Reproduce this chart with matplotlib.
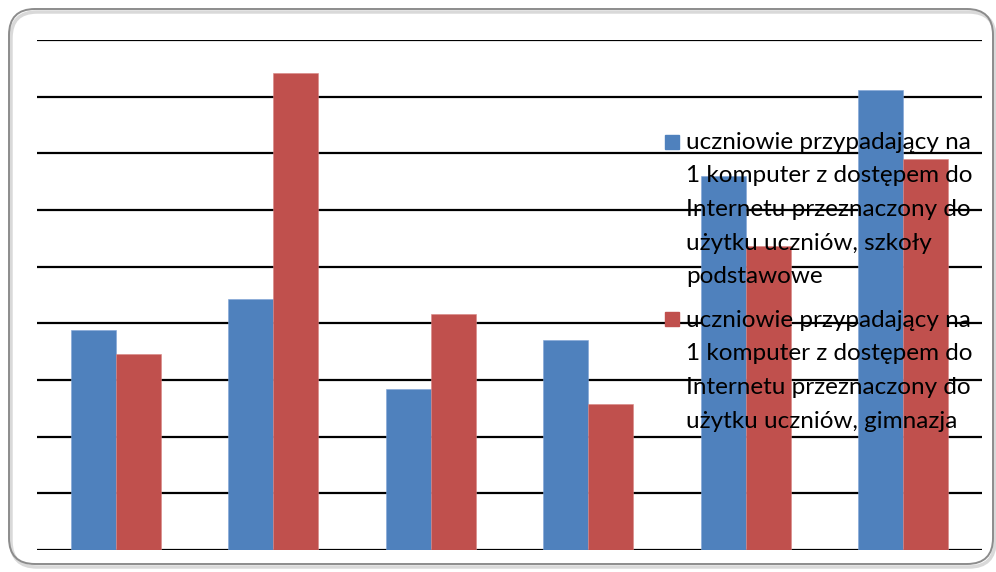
import numpy as np
import matplotlib.pyplot as plt
from matplotlib.patches import FancyBboxPatch

categories = ["1", "2", "3", "4", "5", "6"]
szkoly_podstawowe = [3.88, 4.43, 2.84, 3.71, 6.60, 8.12]
gimnazja = [3.46, 8.42, 4.16, 2.58, 5.36, 6.90]
y_ticks = np.arange(0, 10, 1)

legend_first = ["uczniowie przypadający na", "1 komputer z dostępem do",
                "Internetu przeznaczony do", "użytku uczniów, szkoły",
                "podstawowe"]
legend_second = ["uczniowie przypadający na", "1 komputer z dostępem do",
                 "Internetu przeznaczony do", "użytku uczniów, gimnazja"]

blue = "#4F81BD"
red = "#C0504D"
W, H = 996, 572

fig = plt.figure(figsize=(W / 100, H / 100), dpi=100)

# faint shadow, then the rounded chart border (pixel units keep corners round)
shadow = FancyBboxPatch((11, 5), 984, 555,
                        boxstyle="round,pad=0,rounding_size=26",
                        transform=None, fill=False,
                        edgecolor="#d9d9d9", linewidth=2.5)
fig.patches.append(shadow)
border = FancyBboxPatch((9, 8), 984, 555,
                        boxstyle="round,pad=0,rounding_size=26",
                        transform=None, fill=False,
                        edgecolor="#8c8c8c", linewidth=1.4)
fig.patches.append(border)

ax = fig.add_axes([37 / W, 1 - 550 / H, 945 / W, 510 / H])
x = np.arange(len(categories))
width = 0.2857
ax.bar(x - width / 2, szkoly_podstawowe, width, color=blue,
       edgecolor="#7fa3d6", linewidth=0.4, zorder=2)
ax.bar(x + width / 2, gimnazja, width, color=red,
       edgecolor="#d98583", linewidth=0.4, zorder=2)

ax.set_xlim(-0.5, len(categories) - 0.5)
ax.set_ylim(0, 9)
ax.set_yticks(y_ticks)
ax.set_xticks([])
ax.grid(axis="y", color="black", linewidth=1.6, zorder=1)
ax.tick_params(left=False, labelleft=False)
for s in ax.spines.values():
    s.set_visible(False)
ax.set_axisbelow(True)

# legend drawn by hand, on top of bars
font = dict(family="Lato", fontsize=17.5, color="black")


def legend_entry(color, lines, y_square, y_base):
    fig.patches.append(plt.Rectangle((665 / W, 1 - (y_square + 14) / H),
                                     14 / W, 14 / H, color=color,
                                     transform=fig.transFigure, zorder=5))
    for i, line in enumerate(lines):
        fig.text(686 / W, 1 - (y_base + i * 33.5) / H, line,
                 va="baseline", ha="left", zorder=6, **font)


legend_entry(blue, legend_first, 135, 149)
legend_entry(red, legend_second, 312, 327)

fig.savefig("out.png", dpi=100)
